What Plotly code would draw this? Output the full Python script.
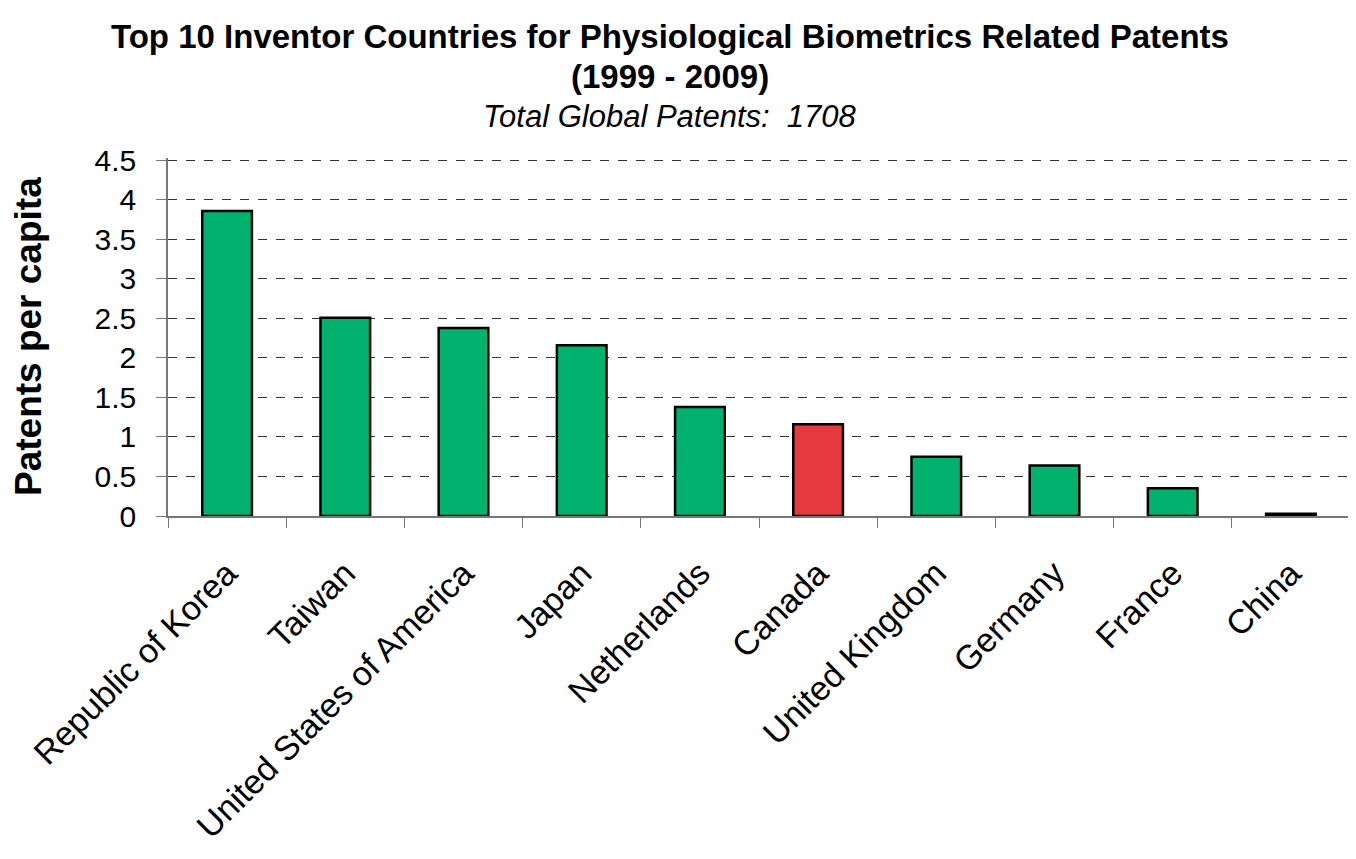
import plotly.graph_objects as go

countries = [
    "Republic of Korea", "Taiwan", "United States of America", "Japan",
    "Netherlands", "Canada", "United Kingdom", "Germany", "France", "China",
]
patents_per_capita = [3.86, 2.51, 2.38, 2.16, 1.38, 1.16, 0.75, 0.64, 0.35, 0.03]
highlight = "Canada"
y_ticks = [0, 0.5, 1, 1.5, 2, 2.5, 3, 3.5, 4, 4.5]

GREEN = "#00B26E"
RED = "#E63A3F"
FONT = "Liberation Sans, Arial, sans-serif"

colors = [RED if c == highlight else GREEN for c in countries]

fig = go.Figure(
    go.Bar(
        x=countries,
        y=patents_per_capita,
        marker=dict(color=colors, line=dict(color="black", width=2.5)),
        width=0.42,
    )
)

# page body adds an 8px offset, margins are set so the plot lands where the original is
fig.update_layout(
    width=1356,
    height=859,
    margin=dict(l=160, r=14, t=150, b=351),
    plot_bgcolor="white",
    paper_bgcolor="white",
    font=dict(family=FONT, color="black"),
    showlegend=False,
)

# title block, centred on the whole figure rather than the plot area
title_x = (670 - 168) / 1182
titles = [
    ("<b>Top 10 Inventor Countries for Physiological Biometrics Related Patents</b>", 122, 33),
    ("<b>(1999 - 2009)</b>", 82, 33),
    ("<i>Total Global Patents:  1708</i>", 42, 31),
]
for text, shift, size in titles:
    fig.add_annotation(
        text=text, xref="paper", yref="paper", x=title_x, y=1, yshift=shift,
        xanchor="center", yanchor="middle", showarrow=False, font=dict(size=size),
    )

fig.add_annotation(
    text="<b>Patents per capita</b>", textangle=-90,
    xref="paper", yref="paper", x=0, y=0.5, xshift=-140,
    xanchor="center", yanchor="middle", showarrow=False, font=dict(size=37),
)

fig.update_yaxes(
    range=[0, 4.53],
    tickvals=y_ticks,
    ticktext=[f"{v:g}" for v in y_ticks],
    showgrid=True,
    gridcolor="#333333",
    griddash="dash",
    gridwidth=1,
    showline=True,
    linecolor="#777777",
    linewidth=1.5,
    ticks="outside",
    ticklen=10,
    tickcolor="#777777",
    tickfont=dict(size=30),
    ticklabelstandoff=14,
    zeroline=False,
    automargin=False,
)
fig.update_xaxes(
    showline=True,
    linecolor="#777777",
    linewidth=1.5,
    ticks="outside",
    ticklen=10,
    tickcolor="#777777",
    tickson="boundaries",
    tickangle=-45,
    tickfont=dict(size=34),
    ticklabelstandoff=22,
    showgrid=False,
    range=[-0.5, 9.5],
    automargin=False,
)

fig.write_html("out.html")
